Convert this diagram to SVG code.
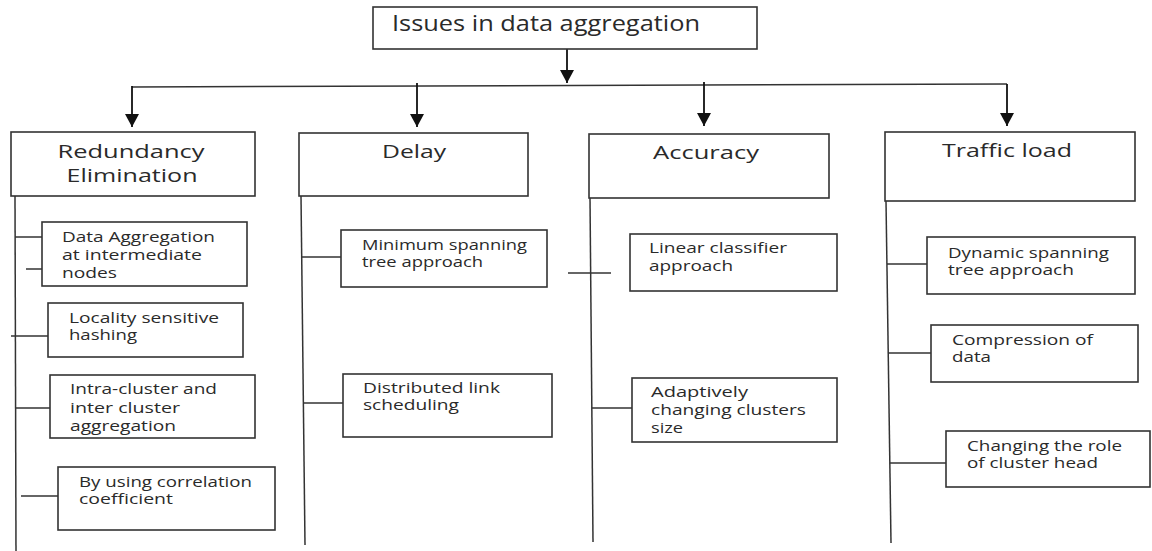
<svg xmlns="http://www.w3.org/2000/svg" width="1152" height="551" viewBox="0 0 1152 551">
<style>
.box{fill:#fff;stroke:#333;stroke-width:1.6}
.ln{stroke:#333;stroke-width:1.5;fill:none}
.ar{stroke:#111;stroke-width:1.8;fill:none}
text{font-family:"Open Sans","DejaVu Sans",sans-serif;fill:#2a2a2a}
.s{font-size:14px}
.h{font-size:19px;text-anchor:middle}
.t{font-size:21px}
</style>
<defs>
<marker id="ah" markerUnits="userSpaceOnUse" markerWidth="14" markerHeight="14" refX="13" refY="7" orient="auto">
<path d="M0,0 L13,7 L0,14 z" fill="#111"/>
</marker>
</defs>
<rect width="1152" height="551" fill="#fff"/>
<g id="connectors">
<line class="ar" x1="567" y1="49" x2="567" y2="83" marker-end="url(#ah)"/>
<line class="ln" x1="132" y1="87" x2="1007" y2="84"/>
<line class="ar" x1="132" y1="86" x2="132" y2="127" marker-end="url(#ah)"/>
<line class="ar" x1="417" y1="83" x2="417" y2="127" marker-end="url(#ah)"/>
<line class="ar" x1="704" y1="82" x2="704" y2="126" marker-end="url(#ah)"/>
<line class="ar" x1="1007" y1="84" x2="1007" y2="126" marker-end="url(#ah)"/>
<line class="ln" x1="15" y1="196" x2="16" y2="551"/>
<line class="ln" x1="301" y1="196" x2="305" y2="545"/>
<line class="ln" x1="590" y1="198" x2="593" y2="542"/>
<line class="ln" x1="886" y1="201" x2="891" y2="543"/>
<line class="ln" x1="15" y1="237" x2="42" y2="237"/>
<line class="ln" x1="26" y1="269" x2="42" y2="269"/>
<line class="ln" x1="11" y1="336" x2="53" y2="336"/>
<line class="ln" x1="16" y1="408" x2="58" y2="408"/>
<line class="ln" x1="21" y1="496" x2="58" y2="496"/>
<line class="ln" x1="302" y1="257" x2="341" y2="257"/>
<line class="ln" x1="303" y1="403" x2="343" y2="403"/>
<line class="ln" x1="568" y1="273" x2="611" y2="273"/>
<line class="ln" x1="592" y1="408" x2="632" y2="408"/>
<line class="ln" x1="887" y1="264" x2="927" y2="264"/>
<line class="ln" x1="888" y1="353" x2="931" y2="353"/>
<line class="ln" x1="890" y1="463" x2="946" y2="463"/>
</g>
<g id="root">
<rect class="box" x="373" y="7" width="384" height="42"/>
<text class="t" x="392" y="31" textLength="308" lengthAdjust="spacingAndGlyphs">Issues in data aggregation</text>
</g>
<g id="redundancy">
<rect class="box" x="11" y="132" width="244" height="64"/>
<text class="h" x="131" y="158" textLength="147" lengthAdjust="spacingAndGlyphs">Redundancy</text>
<text class="h" x="132" y="182" textLength="131" lengthAdjust="spacingAndGlyphs">Elimination</text>
</g>
<g id="delay">
<rect class="box" x="299" y="133" width="229" height="63"/>
<text class="h" x="414" y="158" textLength="64" lengthAdjust="spacingAndGlyphs">Delay</text>
</g>
<g id="accuracy">
<rect class="box" x="589" y="134" width="240" height="64"/>
<text class="h" x="706" y="159" textLength="106" lengthAdjust="spacingAndGlyphs">Accuracy</text>
</g>
<g id="traffic">
<rect class="box" x="885" y="132" width="250" height="69"/>
<text class="h" x="1007" y="157" textLength="130" lengthAdjust="spacingAndGlyphs">Traffic load</text>
</g>
<g id="data-aggregation">
<rect class="box" x="42" y="222" width="205" height="64"/>
<text class="s" x="62" y="242" textLength="153" lengthAdjust="spacingAndGlyphs">Data Aggregation</text>
<text class="s" x="62" y="260" textLength="140" lengthAdjust="spacingAndGlyphs">at intermediate</text>
<text class="s" x="62" y="278" textLength="55" lengthAdjust="spacingAndGlyphs">nodes</text>
</g>
<g id="locality">
<rect class="box" x="48" y="303" width="195" height="54"/>
<text class="s" x="69" y="323" textLength="150" lengthAdjust="spacingAndGlyphs">Locality sensitive</text>
<text class="s" x="69" y="340" textLength="68" lengthAdjust="spacingAndGlyphs">hashing</text>
</g>
<g id="intra-cluster">
<rect class="box" x="50" y="375" width="205" height="63"/>
<text class="s" x="70" y="394" textLength="147" lengthAdjust="spacingAndGlyphs">Intra-cluster and</text>
<text class="s" x="70" y="413" textLength="110" lengthAdjust="spacingAndGlyphs">inter cluster</text>
<text class="s" x="70" y="431" textLength="106" lengthAdjust="spacingAndGlyphs">aggregation</text>
</g>
<g id="correlation">
<rect class="box" x="58" y="467" width="217" height="63"/>
<text class="s" x="79" y="487" textLength="173" lengthAdjust="spacingAndGlyphs">By using correlation</text>
<text class="s" x="79" y="504" textLength="94" lengthAdjust="spacingAndGlyphs">coefficient</text>
</g>
<g id="mst">
<rect class="box" x="341" y="230" width="206" height="57"/>
<text class="s" x="362" y="250" textLength="165" lengthAdjust="spacingAndGlyphs">Minimum spanning</text>
<text class="s" x="362" y="267" textLength="121" lengthAdjust="spacingAndGlyphs">tree approach</text>
</g>
<g id="dls">
<rect class="box" x="343" y="374" width="209" height="63"/>
<text class="s" x="363" y="393" textLength="137" lengthAdjust="spacingAndGlyphs">Distributed link</text>
<text class="s" x="363" y="410" textLength="96" lengthAdjust="spacingAndGlyphs">scheduling</text>
</g>
<g id="linear">
<rect class="box" x="630" y="234" width="207" height="57"/>
<text class="s" x="649" y="253" textLength="138" lengthAdjust="spacingAndGlyphs">Linear classifier</text>
<text class="s" x="649" y="271" textLength="84" lengthAdjust="spacingAndGlyphs">approach</text>
</g>
<g id="adaptive">
<rect class="box" x="632" y="378" width="205" height="64"/>
<text class="s" x="651" y="397" textLength="97" lengthAdjust="spacingAndGlyphs">Adaptively</text>
<text class="s" x="651" y="415" textLength="155" lengthAdjust="spacingAndGlyphs">changing clusters</text>
<text class="s" x="651" y="433" textLength="32" lengthAdjust="spacingAndGlyphs">size</text>
</g>
<g id="dynamic">
<rect class="box" x="927" y="237" width="208" height="57"/>
<text class="s" x="948" y="258" textLength="161" lengthAdjust="spacingAndGlyphs">Dynamic spanning</text>
<text class="s" x="948" y="275" textLength="126" lengthAdjust="spacingAndGlyphs">tree approach</text>
</g>
<g id="compression">
<rect class="box" x="931" y="325" width="207" height="57"/>
<text class="s" x="952" y="345" textLength="141" lengthAdjust="spacingAndGlyphs">Compression of</text>
<text class="s" x="952" y="362" textLength="39" lengthAdjust="spacingAndGlyphs">data</text>
</g>
<g id="cluster-head">
<rect class="box" x="946" y="431" width="204" height="56"/>
<text class="s" x="967" y="451" textLength="155" lengthAdjust="spacingAndGlyphs">Changing the role</text>
<text class="s" x="967" y="468" textLength="131" lengthAdjust="spacingAndGlyphs">of cluster head</text>
</g>
</svg>
